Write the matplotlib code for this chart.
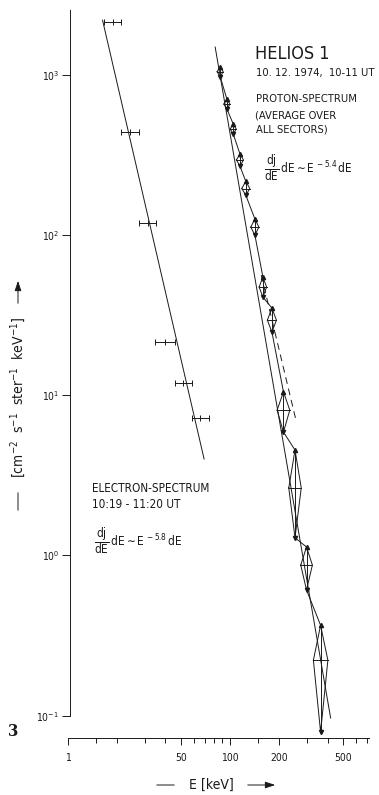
import matplotlib

matplotlib.use("Agg")
import matplotlib.pyplot as plt
from matplotlib import font_manager
from matplotlib.ticker import FixedLocator, NullFormatter, FixedFormatter

W, H = 379, 795

# electron spectrum, 10:19-11:20 UT (energy bins in keV, flux)
ELEC_E_LO = [16.7, 21.4, 27.7, 34.6, 45.6, 58.2]
ELEC_E_HI = [21.4, 27.7, 34.8, 45.6, 58.2, 74.5]
ELEC_FLUX = [2140, 437, 119, 21.4, 12.0, 7.2]
ELEC_FIT_E = [16.4, 69.3]
ELEC_FIT_FLUX = [2190, 4.0]

# proton spectrum, average over all sectors
PROT_E = [87.1, 95.8, 104.8, 115.3, 125.3, 142.5, 159.7, 181.5, 213.8, 251.9, 296.6, 362.2]
PROT_E_LO = [83.4, 91.8, 100.4, 109.7, 118.3, 134.5, 151.4, 170.2, 195.4, 230.6, 273.3, 327.0]
PROT_E_HI = [90.9, 100.0, 109.4, 121.2, 132.6, 150.8, 168.3, 193.5, 233.9, 275.2, 322.4, 401.6]
PROT_FLUX = [1044, 656, 458, 294, 195, 112, 47.3, 29.4, 8.07, 2.64, 0.871, 0.222]
PROT_HI = [1121, 705, 493, 320, 216, 126, 54.7, 35.0, 10.5, 4.55, 1.13, 0.367]
PROT_LO = [972, 611, 427, 269, 177, 99.9, 41.0, 24.8, 5.89, 1.29, 0.609, 0.079]
PROT_FIT_E = [81.1, 417.7]
PROT_FIT_FLUX = [1489, 0.0967]
PROT_DASH_E = [156, 257]
PROT_DASH_FLUX = [56.2, 6.8]

X_TICKS = [10, 50, 100, 200, 500]
X_TICK_LABELS = ["1", "50", "100", "200", "500"]
X_MINOR = [15, 20, 30, 40, 60, 70, 80, 90, 150, 300, 400, 600, 700]
Y_TICKS = [0.1, 1, 10, 100, 1000]
Y_TICK_LABELS = ["10$^{-1}$", "10$^{0}$", "10$^{1}$", "10$^{2}$", "10$^{3}$"]

INK = "#1a1a1a"
LW = 0.7


def pick_family():
    names = {f.name for f in font_manager.fontManager.ttflist}
    for name in ["Liberation Sans Narrow", "DejaVu Sans"]:
        if name in names:
            return name
    return "DejaVu Sans"


def fxy(px, py):
    """pixel position in the reference -> figure fraction"""
    return px / W, 1 - py / H


def plot_data():
    family = pick_family()
    plt.rcParams["font.family"] = [family]
    plt.rcParams["font.stretch"] = "condensed"
    plt.rcParams["mathtext.default"] = "regular"

    fig = plt.figure(figsize=(W / 100, H / 100), dpi=100)
    fig.patch.set_facecolor("white")
    ax = fig.add_axes([67.7 / W, 57 / H, 301.3 / W, 728 / H])
    ax.set_xscale("log")
    ax.set_yscale("log")
    ax.set_xlim(10, 720)
    ax.set_ylim(10 ** -1.139, 10 ** 3.404)

    for s in ["top", "right"]:
        ax.spines[s].set_visible(False)
    ax.spines["left"].set_position(("data", 10.4))
    ax.spines["left"].set_bounds(0.1, 10 ** 3.404)
    for s in ["left", "bottom"]:
        ax.spines[s].set_linewidth(LW)
        ax.spines[s].set_color(INK)

    ax.xaxis.set_major_locator(FixedLocator(X_TICKS))
    ax.xaxis.set_major_formatter(FixedFormatter(X_TICK_LABELS))
    ax.xaxis.set_minor_locator(FixedLocator(X_MINOR))
    ax.xaxis.set_minor_formatter(NullFormatter())
    ax.yaxis.set_major_locator(FixedLocator(Y_TICKS))
    ax.yaxis.set_major_formatter(FixedFormatter(Y_TICK_LABELS))
    ax.yaxis.set_minor_locator(FixedLocator([]))
    ax.tick_params(which="major", length=5, width=LW, color=INK, labelsize=7.5,
                   labelcolor=INK, pad=6)
    ax.tick_params(which="minor", length=3.5, width=LW, color=INK)
    ax.tick_params(axis="y", length=6, pad=2)

    # electrons
    e_c = [(lo * hi) ** 0.5 for lo, hi in zip(ELEC_E_LO, ELEC_E_HI)]
    xerr = [[c - lo for c, lo in zip(e_c, ELEC_E_LO)],
            [hi - c for c, hi in zip(e_c, ELEC_E_HI)]]
    ax.errorbar(e_c, ELEC_FLUX, xerr=xerr, fmt="none", ecolor=INK,
                elinewidth=LW, capsize=2, capthick=LW, clip_on=False)
    ax.plot(e_c, ELEC_FLUX, ls="none", marker="|", ms=4, mew=LW, color=INK)
    ax.plot(ELEC_FIT_E, ELEC_FIT_FLUX, color=INK, lw=LW)

    # protons
    ax.plot(PROT_FIT_E, PROT_FIT_FLUX, color=INK, lw=LW, clip_on=False)
    ax.plot(PROT_DASH_E, PROT_DASH_FLUX, color=INK, lw=LW, ls=(0, (7, 5)))
    n = len(PROT_E)
    for i in range(n):
        e, lo_e, hi_e = PROT_E[i], PROT_E_LO[i], PROT_E_HI[i]
        f, lo, hi = PROT_FLUX[i], PROT_LO[i], PROT_HI[i]
        ax.plot([lo_e, e, hi_e, e, lo_e], [f, hi, f, lo, f], color=INK, lw=LW,
                clip_on=False)
        ax.plot([lo_e, hi_e], [f, f], color=INK, lw=LW)
        ax.plot([e, e], [lo, hi], color=INK, lw=LW, clip_on=False)
        ax.plot([e], [hi], marker="^", ms=3, color=INK, clip_on=False)
        ax.plot([e], [lo], marker="v", ms=3, color=INK, clip_on=False)
        if i < n - 1:
            ax.plot([e, PROT_E[i + 1]], [lo, PROT_HI[i + 1]], color=INK, lw=LW)

    # annotations
    txt = dict(color=INK, ha="left", va="center")
    fig.text(*fxy(255, 54), "HELIOS 1", fontsize=13, **txt)
    fig.text(*fxy(256, 73), "10. 12. 1974,  10-11 UT", fontsize=8, **txt)
    fig.text(*fxy(256, 99), "PROTON-SPECTRUM", fontsize=8, **txt)
    fig.text(*fxy(255, 115), "(AVERAGE OVER", fontsize=8, **txt)
    fig.text(*fxy(256, 130), "ALL SECTORS)", fontsize=8, **txt)
    fig.text(*fxy(264, 168),
             r"$\dfrac{dj}{dE}\,dE \sim E^{\,-5.4}\,dE$", fontsize=8.5, **txt)
    fig.text(*fxy(92, 489), "ELECTRON-SPECTRUM", fontsize=8.4, **txt)
    fig.text(*fxy(92, 504), "10:19 - 11:20 UT", fontsize=8.4, **txt)
    fig.text(*fxy(94, 541),
             r"$\dfrac{dj}{dE}\,dE \sim E^{\,-5.8}\,dE$", fontsize=8.5, **txt)
    fig.text(*fxy(13, 731), "3", fontsize=12, fontweight="bold",
             family="DejaVu Serif", color=INK, ha="center", va="center")

    # axis labels with lead-in dash and arrow
    fig.text(*fxy(211, 785), "E [keV]", fontsize=10, color=INK,
             ha="center", va="center")
    fig.text(*fxy(18, 397), r"[cm$^{-2}$  s$^{-1}$  ster$^{-1}$  keV$^{-1}$]",
             fontsize=10, color=INK, rotation=90, ha="center", va="center")
    arrow = dict(arrowstyle="-|>,head_length=0.6,head_width=0.2", lw=LW, color=INK)
    line = dict(arrowstyle="-", lw=LW, color=INK)
    fig.add_artist(plt.Annotation("", xy=fxy(154, 785), xytext=fxy(177, 785),
                                  xycoords="figure fraction", arrowprops=line))
    fig.add_artist(plt.Annotation("", xy=fxy(278, 785), xytext=fxy(245, 785),
                                  xycoords="figure fraction", arrowprops=arrow))
    fig.add_artist(plt.Annotation("", xy=fxy(18, 490), xytext=fxy(18, 513),
                                  xycoords="figure fraction", arrowprops=line))
    fig.add_artist(plt.Annotation("", xy=fxy(18, 278), xytext=fxy(18, 306),
                                  xycoords="figure fraction", arrowprops=arrow))

    fig.savefig("out.png", dpi=100, facecolor="white")


if __name__ == "__main__":
    plot_data()
